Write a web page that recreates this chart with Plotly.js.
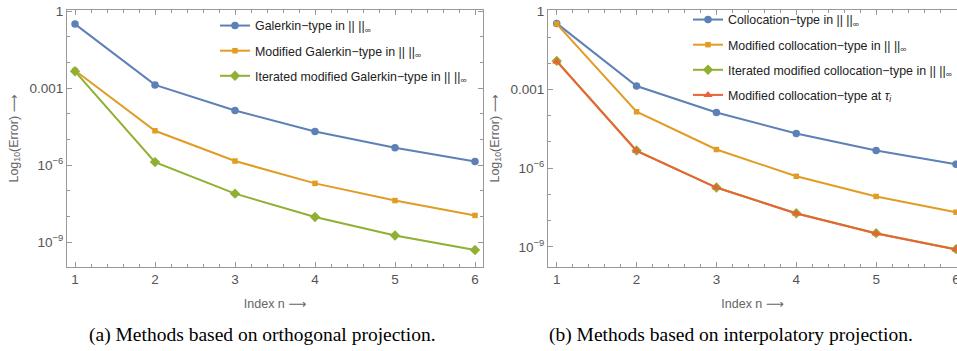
<!DOCTYPE html>
<html>
<head>
<meta charset="utf-8">
<script src="https://cdn.plot.ly/plotly-3.0.1.min.js"></script>
<style>html,body{margin:0;padding:0;background:#fff;}#chart{width:957px;height:351px;}</style>
</head>
<body>
<div id="chart"></div>
<script>
// ---- data ----
var indexN = [1, 2, 3, 4, 5, 6];

// (a) orthogonal projection
var galerkin            = [0.316, 1.35e-3, 1.35e-4, 2.04e-5, 4.79e-6, 1.38e-6];
var modifiedGalerkin    = [4.9e-3, 2.19e-5, 1.45e-6, 1.95e-7, 4.17e-8, 1.10e-8];
var iteratedGalerkin    = [4.57e-3, 1.32e-6, 7.76e-8, 9.55e-9, 1.82e-9, 4.9e-10];

// (b) interpolatory projection
var collocation         = [0.331, 1.35e-3, 1.32e-4, 2.09e-5, 4.68e-6, 1.41e-6];
var modifiedCollocation = [0.316, 1.41e-4, 5.13e-6, 4.9e-7, 8.32e-8, 2.09e-8];
var iteratedCollocation = [1.23e-2, 4.68e-6, 1.82e-7, 1.91e-8, 3.31e-9, 8.13e-10];
var collocationAtTau    = [1.17e-2, 4.57e-6, 1.82e-7, 1.86e-8, 3.24e-9, 7.94e-10];

var yTickVals = [1, 1e-3, 1e-6, 1e-9];
var yTickText = ["1", "0.001", "10<sup>−6</sup>", "10<sup>−9</sup>"];
var yMinorVals = [1e-1, 1e-2, 1e-4, 1e-5, 1e-7, 1e-8, 1e-10];

var NORM = "|| ||<sub>∞</sub>";
var namesA = ["Galerkin−type in " + NORM,
              "Modified Galerkin−type in " + NORM,
              "Iterated modified Galerkin−type in " + NORM];
var namesB = ["Collocation−type in " + NORM,
              "Modified collocation−type in " + NORM,
              "Iterated modified collocation−type in " + NORM,
              "Modified collocation−type at <i>τ<sub>i</sub></i>"];
var captionA = "(a) Methods based on orthogonal projection.";
var captionB = "(b) Methods based on interpolatory projection.";

// ---- styles ----
var BLUE = "#5E81B5", ORANGE = "#E19C24", GREEN = "#8FB032", RED = "#EB6235";
var FONT = "'Liberation Sans', 'DejaVu Sans', Arial, sans-serif";
var SERIF = "'Liberation Serif', 'Times New Roman', serif";

function tr(y, name, color, symbol, size, xa, ya, leg) {
  return {x: indexN, y: y, name: name, type: "scatter", mode: "lines+markers",
    line: {color: color, width: 2}, marker: {color: color, symbol: symbol, size: size},
    xaxis: xa, yaxis: ya, legend: leg, legendgroup: leg + name};
}

var traces = [
  tr(galerkin, namesA[0], BLUE, "circle", 7.5, "x", "y", "legend"),
  tr(modifiedGalerkin, namesA[1], ORANGE, "square", 5.5, "x", "y", "legend"),
  tr(iteratedGalerkin, namesA[2], GREEN, "diamond", 8, "x", "y", "legend"),
  tr(collocation, namesB[0], BLUE, "circle", 7.5, "x2", "y2", "legend2"),
  tr(modifiedCollocation, namesB[1], ORANGE, "square", 5.5, "x2", "y2", "legend2"),
  tr(iteratedCollocation, namesB[2], GREEN, "diamond", 8, "x2", "y2", "legend2"),
  tr(collocationAtTau, namesB[3], RED, "triangle-up", 8, "x2", "y2", "legend2")
];

function xax(domain, range) {
  return {domain: domain, range: range, tickvals: indexN, ticks: "inside", ticklen: 5,
    tickcolor: "#999", showline: true, linecolor: "#999", linewidth: 1, mirror: "ticks",
    showgrid: false, zeroline: false, ticklabeloverflow: "allow", automargin: false,
    tickfont: {family: FONT, size: 13.5, color: "#555"},
    minor: {dtick: 0.2, tick0: 0, ticks: "inside", ticklen: 3, tickcolor: "#999", showgrid: false},
    title: {text: "Index n ⟶", font: {family: FONT, size: 12.5, color: "#666"}, standoff: 13}};
}
function yax(domain, range, mirror, anchor) {
  return {domain: domain, type: "log", range: range, anchor: anchor, automargin: false,
    tickmode: "array", tickvals: yTickVals, ticktext: yTickText,
    ticks: "inside", ticklen: 5, tickcolor: "#999", showline: true, linecolor: "#999",
    linewidth: 1, mirror: mirror, showgrid: false, zeroline: false,
    tickfont: {family: FONT, size: 13.5, color: "#555"},
    minor: {tickmode: "array", tickvals: yMinorVals, ticks: "inside", ticklen: 3, tickcolor: "#999", showgrid: false},
    title: {text: "Log<sub>10</sub>(Error) ⟶", font: {family: FONT, size: 12.5, color: "#666"}, standoff: 8}};
}

var yDom = [1 - 267/351, 1 - 10/351];
var legFont = {family: FONT, size: 12.4, color: "#222"};
var layout = {
  width: 957, height: 351, margin: {l: 0, r: 0, t: 0, b: 0, autoexpand: false},
  paper_bgcolor: "#fff", plot_bgcolor: "#fff", showlegend: true,
  xaxis: xax([67/957, 483/957], [0.9, 6.1]),
  yaxis: yax(yDom, [-9.97, 0.05], "ticks", "x"),
  xaxis2: Object.assign(xax([548/957, 1], [0.891, 6.0125]), {anchor: "y2"}),
  yaxis2: yax(yDom, [-9.77, 0.03], false, "x2"),
  legend: {x: 215/957, y: 1 - 11/351, xanchor: "left", yanchor: "top", bgcolor: "rgba(0,0,0,0)",
    font: legFont, tracegroupgap: 6, itemwidth: 30},
  legend2: {x: 688/957, y: 1 - 5/351, xanchor: "left", yanchor: "top", bgcolor: "rgba(0,0,0,0)",
    font: legFont, tracegroupgap: 6, itemwidth: 30},
  annotations: [
    {text: captionA, xref: "paper", yref: "paper", x: 262/957, y: 1 - 335/351, xanchor: "center", yanchor: "middle",
     showarrow: false, font: {family: SERIF, size: 19.5, color: "#000"}},
    {text: captionB, xref: "paper", yref: "paper", x: 731/957, y: 1 - 335/351, xanchor: "center", yanchor: "middle",
     showarrow: false, font: {family: SERIF, size: 19.5, color: "#000"}}
  ]
};

Plotly.newPlot("chart", traces, layout, {displayModeBar: false, staticPlot: true});
</script>
</body>
</html>
